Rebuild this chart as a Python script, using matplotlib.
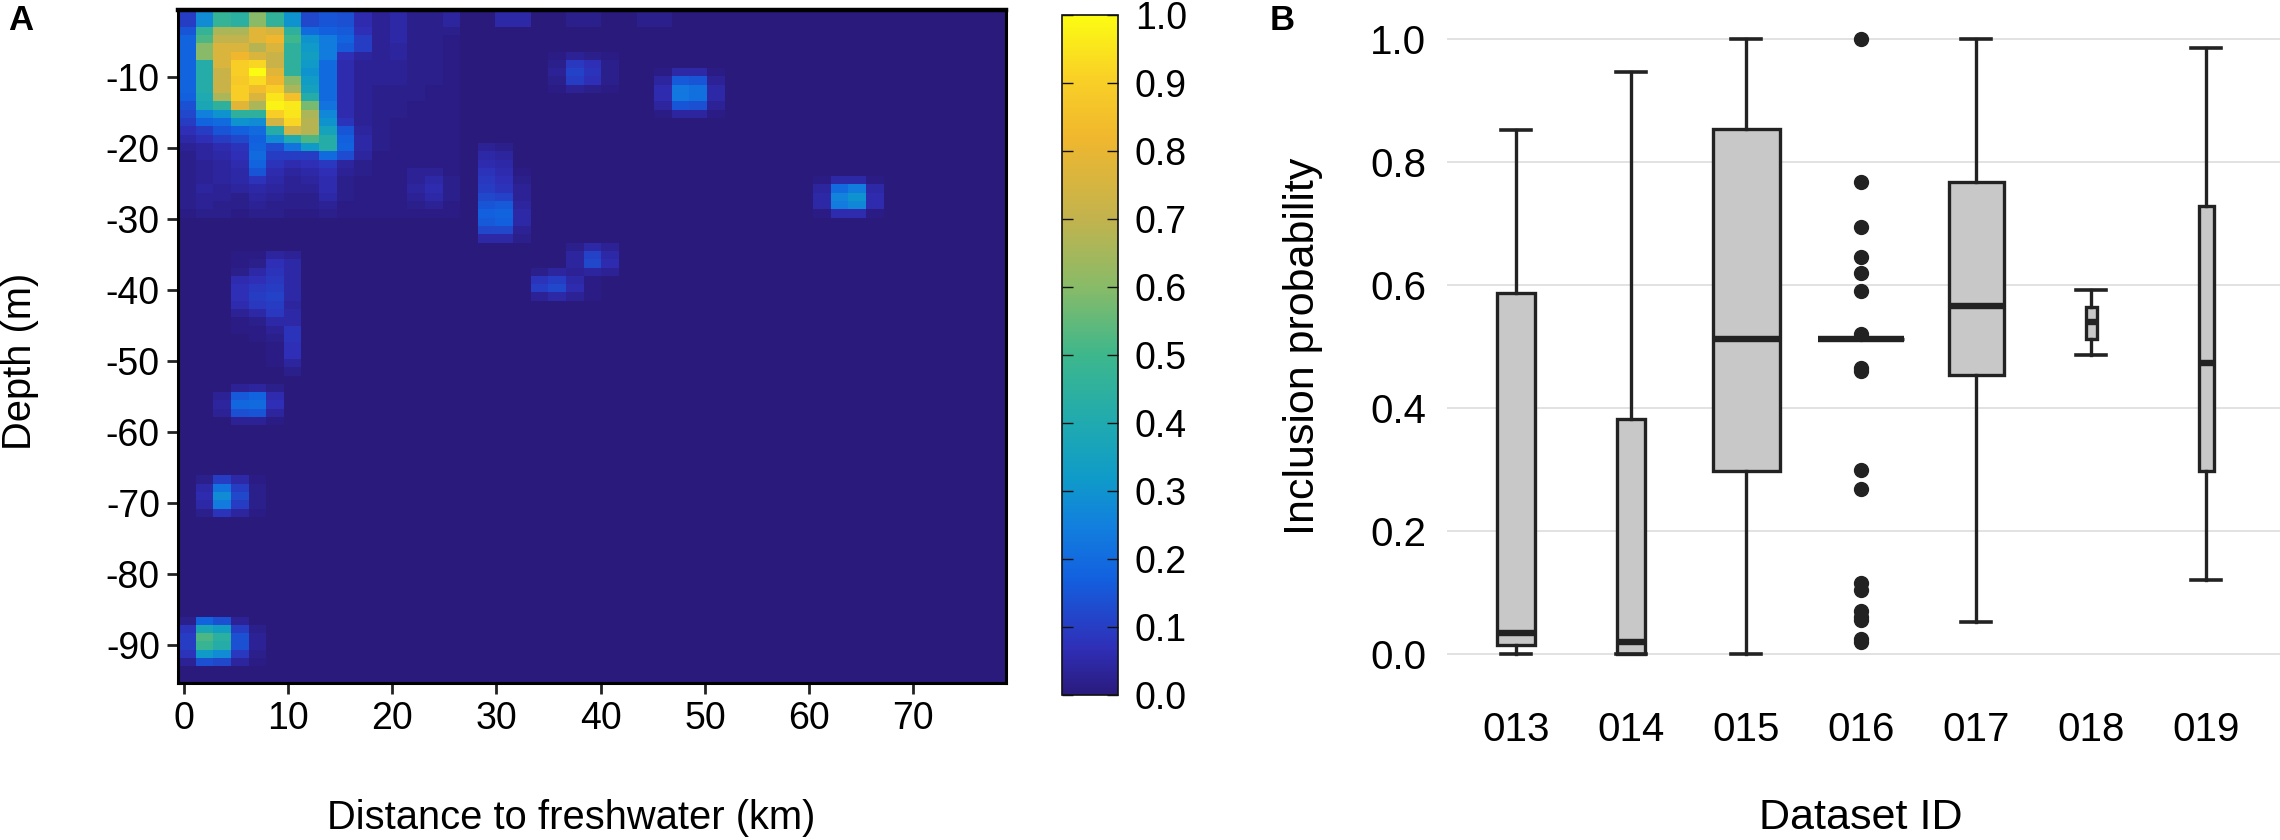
# Two panel figure: occurrence heat map and inclusion probability boxes
import numpy as np
import matplotlib
matplotlib.use('Agg')
import matplotlib.pyplot as plt
from matplotlib.colors import LinearSegmentedColormap

plt.rcParams['font.family'] = ['Liberation Sans', 'DejaVu Sans']
plt.rcParams['axes.unicode_minus'] = False

# Parula-like colours, 0 to 1
parula_colors = ['#2a1a7c', '#2f2fb8', '#1360df', '#1280de', '#0f9bc8', '#20aab0',
                 '#3db78c', '#88bb68', '#c2b34e', '#f0b72e', '#f9d126', '#fcfc12']
parula_stops = [0.0, 0.07, 0.17, 0.25, 0.32, 0.40, 0.50, 0.60, 0.70, 0.82, 0.91, 1.0]

# Panel A, values. Grid is 47 columns by 81 rows.
n_cols = 47
n_rows = 81
cell_km = 1.69
cell_m = 1.17

# Upper left block, rows are top down, columns go with distance
top_block = [
    [.10, .28, .47, .44, .60, .46, .30, .12, .15, .14, .06, .03, .05, .02, .02, .04],
    [.10, .28, .47, .44, .60, .46, .30, .12, .15, .14, .06, .03, .05, .02, .02, .04],
    [.15, .47, .66, .66, .78, .75, .45, .20, .17, .16, .07, .03, .05, .02, .02, .02],
    [.18, .52, .70, .70, .78, .82, .50, .30, .24, .18, .10, .03, .05, .02, .02, .01],
    [.18, .60, .76, .76, .68, .76, .45, .32, .24, .16, .10, .03, .04, .02, .02, .01],
    [.18, .60, .76, .82, .76, .72, .45, .34, .24, .07, .04, .03, .04, .02, .02, .01],
    [.18, .42, .76, .90, .92, .72, .45, .32, .20, .06, .03, .03, .03, .02, .02, .01],
    [.18, .42, .72, .90, 1.0, .78, .45, .30, .20, .06, .03, .03, .03, .02, .02, .01],
    [.18, .42, .72, .88, .93, .82, .60, .33, .20, .06, .03, .03, .03, .02, .02, .01],
    [.18, .42, .72, .90, .84, .90, .66, .35, .20, .06, .03, .02, .02, .02, .01, .01],
    [.17, .40, .66, .90, .76, .95, .85, .42, .20, .06, .03, .02, .02, .02, .01, .01],
    [.14, .38, .45, .78, .66, .98, .96, .58, .22, .06, .03, .02, .02, .01, .01, .01],
    [.12, .25, .30, .45, .45, .90, .95, .66, .27, .06, .03, .02, .02, .01, .01, .01],
    [.10, .18, .20, .30, .28, .74, .92, .68, .30, .08, .03, .02, .01, .01, .01, .01],
    [.07, .10, .15, .17, .20, .42, .74, .68, .36, .15, .04, .02, .01, .01, .01, .01],
    [.05, .07, .10, .12, .17, .28, .40, .52, .42, .17, .05, .02, .01, .01, .01, .01],
    [.03, .04, .06, .08, .18, .13, .22, .32, .42, .18, .05, .02, .01, .01, .01, .01],
    [.02, .04, .05, .07, .20, .10, .10, .10, .20, .13, .04, .01, .01, .01, .01, .01],
    [.02, .03, .04, .06, .18, .08, .06, .07, .09, .04, .02, .01, .01, .01, .01, .01],
    [.02, .03, .04, .05, .15, .06, .04, .05, .07, .03, .02, .01, .01, .03, .03, .01],
    [.02, .03, .04, .05, .08, .05, .03, .04, .06, .02, .01, .01, .01, .03, .05, .02],
    [.02, .04, .03, .04, .05, .04, .03, .03, .06, .02, .01, .01, .01, .04, .06, .02],
    [.02, .03, .03, .02, .04, .03, .02, .02, .05, .02, .01, .01, .01, .03, .05, .02],
    [.02, .03, .02, .02, .03, .02, .02, .02, .03, .01, .01, .01, .01, .02, .03, .01],
    [.01, .02, .02, .01, .02, .02, .01, .01, .02, .01, .01, .01, .01, .01, .01, .01],
]

# Faint patch at about 10 km, 40 m down
blob_deep_rows = [29, 30, 31, 32, 33, 34, 35, 36, 37, 38, 39, 40, 41, 42, 43]
blob_deep_cols = [3, 4, 5, 6]
blob_deep = [
    [.01, .01, .04, .03],
    [.01, .02, .07, .05],
    [.02, .05, .08, .05],
    [.06, .07, .09, .05],
    [.07, .09, .10, .05],
    [.07, .10, .11, .05],
    [.06, .09, .10, .04],
    [.03, .05, .09, .05],
    [.01, .02, .05, .05],
    [.01, .01, .03, .08],
    [.00, .01, .02, .08],
    [.00, .00, .01, .07],
    [.00, .00, .01, .07],
    [.00, .00, .01, .04],
    [.00, .00, .00, .02],
]

# Small spots: first column, first row, cells
spot_tall = [
    [.03, .02, .00],
    [.05, .04, .00],
    [.06, .05, .00],
    [.08, .06, .01],
    [.09, .07, .02],
    [.10, .08, .03],
    [.12, .11, .03],
    [.15, .16, .04],
    [.17, .18, .05],
    [.16, .17, .05],
    [.12, .12, .03],
    [.05, .05, .02],
]
spot_a = [
    [.01, .03, .02, .01],
    [.02, .09, .07, .02],
    [.03, .11, .08, .02],
    [.02, .10, .07, .02],
    [.01, .03, .02, .01],
]
spot_b = [
    [.01, .05, .05, .01],
    [.04, .20, .24, .05],
    [.05, .26, .30, .06],
    [.05, .24, .27, .06],
    [.01, .06, .06, .01],
]
spot_c = [
    [.01, .05, .05, .01],
    [.04, .16, .15, .03],
    [.06, .23, .21, .05],
    [.06, .23, .21, .05],
    [.04, .15, .14, .03],
    [.01, .04, .04, .01],
]
spot_d = [
    [.02, .04, .03, .01],
    [.08, .10, .05, .01],
    [.10, .12, .06, .01],
    [.03, .05, .03, .01],
]
spot_e = [
    [.02, .05, .03],
    [.04, .11, .05],
    [.04, .12, .06],
    [.01, .04, .03],
]
spot_f = [
    [.00, .03, .04, .02],
    [.03, .16, .18, .06],
    [.04, .19, .20, .07],
    [.03, .14, .15, .04],
    [.00, .03, .03, .01],
]
spot_g = [
    [.02, .10, .05, .01],
    [.05, .22, .10, .02],
    [.06, .28, .12, .02],
    [.05, .24, .10, .02],
    [.02, .08, .04, .01],
]
spot_h = [
    [.02, .18, .14, .03, .00],
    [.08, .38, .34, .10, .02],
    [.10, .52, .44, .14, .03],
    [.10, .48, .42, .14, .03],
    [.08, .32, .28, .09, .02],
    [.03, .14, .12, .04, .01],
]
spot_top_col = [18, 19, 22, 23, 26, 27]
spot_top_val = [.05, .05, .02, .02, .02, .02]

spots = [(17, 16, spot_tall), (21, 5, spot_a), (27, 7, spot_c), (36, 20, spot_b),
         (20, 31, spot_d), (22, 28, spot_e), (2, 45, spot_f), (1, 56, spot_g),
         (0, 73, spot_h)]

# Panel B, values
dataset_ids = ['013', '014', '015', '016', '017', '018', '019']
whisker_low = [0.0, 0.0, 0.0, 0.512, 0.053, 0.487, 0.12]
box_q1 = [0.015, 0.0, 0.297, 0.512, 0.453, 0.513, 0.297]
box_median = [0.035, 0.02, 0.512, 0.512, 0.566, 0.54, 0.473]
box_q3 = [0.587, 0.382, 0.853, 0.512, 0.768, 0.565, 0.728]
whisker_high = [0.852, 0.947, 1.0, 0.512, 1.0, 0.592, 0.985]
box_widths = [0.33, 0.25, 0.58, 0.75, 0.48, 0.1, 0.13]
outliers_016 = [1.0, 0.768, 0.695, 0.645, 0.62, 0.59, 0.52, 0.465, 0.46, 0.3, 0.268,
                0.115, 0.105, 0.07, 0.06, 0.055, 0.025, 0.02]

# ------------------------------
# Figure
# ------------------------------
W, H = 2280, 840
fig = plt.figure(figsize=(W / 100, H / 100), dpi=100)


def px_axes(left, top, right, bottom):
    return fig.add_axes([left / W, 1 - bottom / H, (right - left) / W, (bottom - top) / H])


parula = LinearSegmentedColormap.from_list('parula', list(zip(parula_stops, parula_colors)), N=512)

grid = np.zeros((n_rows, n_cols))
grid[:len(top_block), :len(top_block[0])] = top_block
r0, c0 = blob_deep_rows[0], blob_deep_cols[0]
grid[r0:r0 + len(blob_deep), c0:c0 + len(blob_deep[0])] = blob_deep
for col, row, cells in spots:
    cells = np.array(cells)
    h, w = cells.shape
    grid[row:row + h, col:col + w] = np.maximum(grid[row:row + h, col:col + w], cells)
for col, val in zip(spot_top_col, spot_top_val):
    grid[0:2, col] = val

axA = px_axes(178, 10, 1006, 683)
x_left = -0.55
x_right = x_left + n_cols * cell_km
y_top = -0.55
y_bot = y_top - n_rows * cell_m
im = axA.imshow(grid, cmap=parula, vmin=0, vmax=1, aspect='auto',
                extent=[x_left, x_right, y_bot, y_top], interpolation='nearest')
axA.set_xticks(range(0, 71, 10))
axA.set_yticks(range(-10, -91, -10))
axA.tick_params(labelsize=27, width=2, length=8, color='#222222', pad=5)
for s in axA.spines.values():
    s.set_linewidth(2.2)
axA.spines['top'].set_linewidth(3.2)
fig.text(571 / W, 1 - 818 / H, 'Distance to freshwater (km)', fontsize=28.7, ha='center', va='center')
fig.text(20 / W, 1 - 361 / H, 'Depth (m)', fontsize=28.7, rotation=90, ha='center', va='center')

cax = px_axes(1062, 15, 1118, 695)
cb = fig.colorbar(im, cax=cax)
cb.set_ticks(np.arange(0, 1.01, 0.1))
cb.ax.tick_params(labelsize=27, length=8, width=1, direction='in', left=True, right=True,
                  color='#111111', pad=12)
cb.outline.set_linewidth(1.2)
cb.outline.set_edgecolor('#111111')

axB = px_axes(1447, 10, 2280, 685)
stats = []
for i in range(len(dataset_ids)):
    stats.append({'whislo': whisker_low[i], 'q1': box_q1[i], 'med': box_median[i],
                  'q3': box_q3[i], 'whishi': whisker_high[i],
                  'fliers': outliers_016 if dataset_ids[i] == '016' else [],
                  'label': dataset_ids[i]})
line_c = '#222222'
axB.bxp(stats, positions=range(len(stats)), widths=box_widths, patch_artist=True,
        boxprops=dict(facecolor='#c8c8c8', edgecolor=line_c, linewidth=2.4),
        medianprops=dict(color=line_c, linewidth=4.6, solid_capstyle='butt'),
        whiskerprops=dict(color=line_c, linewidth=2.4),
        capprops=dict(color=line_c, linewidth=2.6),
        capwidths=0.26,
        flierprops=dict(marker='o', markerfacecolor=line_c, markeredgecolor=line_c, markersize=10))
axB.set_xlim(-0.6, 6.64)
axB.set_ylim(-0.05, 1.047)
axB.set_yticks(np.arange(0, 1.01, 0.2))
axB.set_yticklabels(['0.0', '0.2', '0.4', '0.6', '0.8', '1.0'])
axB.yaxis.grid(True, color='#e2e2e2', lw=1.4)
axB.set_axisbelow(True)
axB.tick_params(labelsize=29, length=0, pad=15)
axB.tick_params(axis='x', pad=19)
for s in axB.spines.values():
    s.set_visible(False)
fig.text(1861 / W, 1 - 818 / H, 'Dataset ID', fontsize=31, ha='center', va='center')
fig.text(1303 / W, 1 - 346 / H, 'Inclusion probability', fontsize=31, rotation=90, ha='center', va='center')

fig.text(8 / W, 1 - 20 / H, 'A', fontsize=25, fontweight='bold', ha='left', va='center')
fig.text(1270 / W, 1 - 20 / H, 'B', fontsize=25, fontweight='bold', ha='left', va='center')

fig.savefig('out.png', dpi=100)
